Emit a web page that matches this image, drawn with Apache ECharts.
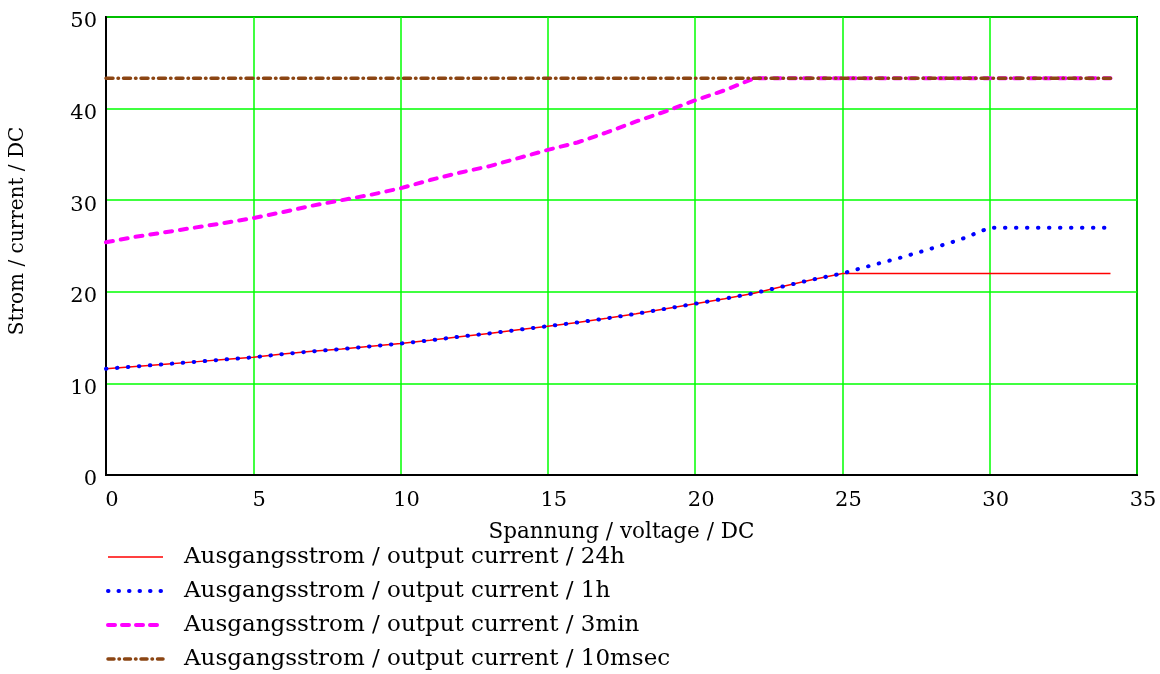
<!DOCTYPE html>
<html>
<head>
<meta charset="utf-8">
<script src="https://cdn.jsdelivr.net/npm/echarts@6/dist/echarts.min.js"></script>
<style>
html,body{margin:0;padding:0;background:#fff;}
#chart{width:1160px;height:674px;}
</style>
</head>
<body>
<div id="chart"></div>
<script>
// Voltage (x) values, V DC
const voltage = [0,1,2,3,4,5,6,7,8,9,10,11,12,13,14,15,16,17,18,19,20,21,22,23,24,25,26,27,28,29,30,31,32,33,34.1];
// Output current / 24h
const current24h = [11.6,11.85,12.1,12.35,12.6,12.85,13.2,13.5,13.75,14.05,14.35,14.7,15.1,15.45,15.85,16.25,16.65,17.1,17.6,18.15,18.7,19.25,19.85,20.6,21.35,22.0,22,22,22,22,22,22,22,22,22];
// Output current / 1h
const current1h = [11.6,11.85,12.1,12.35,12.6,12.85,13.2,13.5,13.75,14.05,14.35,14.7,15.1,15.45,15.85,16.25,16.65,17.1,17.6,18.15,18.7,19.25,19.85,20.6,21.35,22.0,22.9,23.75,24.7,25.7,27.0,27.0,27.0,27.0,27.0];
// Output current / 3min
const current3min = [25.4,26.0,26.5,27.0,27.5,28.05,28.7,29.4,30.0,30.6,31.3,32.2,33.0,33.7,34.6,35.5,36.3,37.4,38.6,39.7,40.9,42.0,43.3,43.3,43.3,43.3,43.3,43.3,43.3,43.3,43.3,43.3,43.3,43.3,43.3];
// Output current / 10msec
const current10ms = [43.3,43.3,43.3,43.3,43.3,43.3,43.3,43.3,43.3,43.3,43.3,43.3,43.3,43.3,43.3,43.3,43.3,43.3,43.3,43.3,43.3,43.3,43.3,43.3,43.3,43.3,43.3,43.3,43.3,43.3,43.3,43.3,43.3,43.3,43.3];

const seriesNames = [
  'Ausgangsstrom / output current / 24h',
  'Ausgangsstrom / output current / 1h',
  'Ausgangsstrom / output current / 3min',
  'Ausgangsstrom / output current / 10msec'
];
const xAxisTitle = 'Spannung / voltage / DC';
const yAxisTitle = 'Strom / current / DC';

const FONT = 'DejaVu Serif';
const pairs = (ys) => voltage.map((v, i) => [v, ys[i]]);

const styles = [
  {color: '#ff0000', width: 1.5, type: 'solid', cap: 'butt'},
  {color: '#0000ff', width: 4, type: [0.5, 10.5], cap: 'round'},
  {color: '#ff00ff', width: 4, type: [7, 8], cap: 'round'},
  {color: '#8b4513', width: 3.5, type: [7, 5, 0.5, 5], cap: 'round'}
];
const legendStyles = [
  {color: '#ff0000', width: 1.5, type: 'solid', cap: 'butt'},
  {color: '#0000ff', width: 4, type: [0.5, 10], cap: 'round'},
  {color: '#ff00ff', width: 4, type: [7, 7], cap: 'round'},
  {color: '#8b4513', width: 3.5, type: [6, 5, 0.5, 5], cap: 'round'}
];

const chart = echarts.init(document.getElementById('chart'), null, {renderer: 'canvas'});
chart.setOption({
  animation: false,
  backgroundColor: '#ffffff',
  textStyle: {fontFamily: FONT, color: '#000'},
  grid: {left: 106, right: 23, top: 17, bottom: 199, show: true, borderColor: '#000', borderWidth: 2, backgroundColor: 'transparent'},
  xAxis: {
    type: 'value', min: 0, max: 35, interval: 5,
    name: xAxisTitle, nameLocation: 'middle', nameGap: 46,
    nameTextStyle: {fontFamily: FONT, fontSize: 21.5, color: '#000'},
    axisLine: {show: true, lineStyle: {color: '#000', width: 2}},
    axisTick: {show: false},
    axisLabel: {fontFamily: FONT, fontSize: 21, color: '#000', margin: 15, padding: [0, 0, 0, 12]},
    splitLine: {show: true, lineStyle: {color: '#00ff00', width: 1.5}}
  },
  yAxis: {
    type: 'value', min: 0, max: 50, interval: 10,
    axisLine: {show: true, lineStyle: {color: '#000', width: 2}},
    axisTick: {show: false},
    axisLabel: {fontFamily: FONT, fontSize: 21, color: '#000', margin: 9, verticalAlign: 'top', lineHeight: 10},
    splitLine: {show: true, lineStyle: {color: '#00ff00', width: 1.5}}
  },
  graphic: [{
    type: 'text', x: 18, y: 231, rotation: Math.PI / 2,
    style: {text: yAxisTitle, x: 0, y: 0, align: 'center', verticalAlign: 'middle', font: '20px "DejaVu Serif"', fill: '#000'}
  }],
  legend: {
    orient: 'vertical', left: 101, top: 537, height: 137,
    itemWidth: 55, itemHeight: 20, itemGap: 4,
    itemStyle: {opacity: 0},
    textStyle: {fontFamily: FONT, fontSize: 23, color: '#000', lineHeight: 22, padding: [8, 0, 0, 16]},
    data: seriesNames.map((n, i) => ({name: n, lineStyle: legendStyles[i], itemStyle: {opacity: 0}}))
  },
  series: seriesNames.map((n, i) => ({
    name: n, type: 'line', symbol: 'none', smooth: false,
    data: pairs([current24h, current1h, current3min, current10ms][i]),
    lineStyle: styles[i], itemStyle: {color: styles[i].color}
  }))
});
</script>
</body>
</html>
